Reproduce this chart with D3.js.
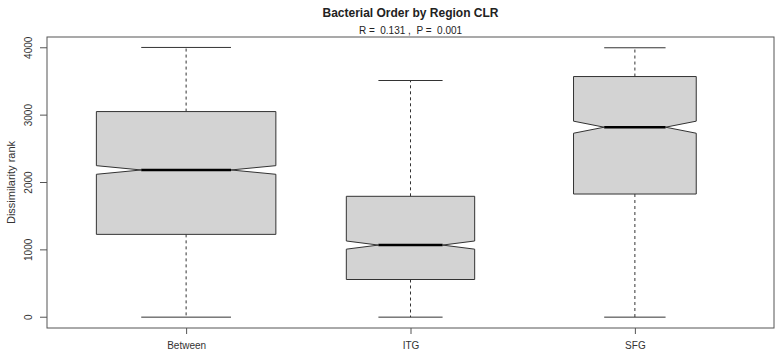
<!DOCTYPE html>
<html>
<head>
<meta charset="utf-8">
<title>Bacterial Order by Region CLR</title>
<script src="https://d3js.org/d3.v7.min.js"></script>
<style>
    body { margin: 0; background: #fff; }
    svg { font-family: "Liberation Sans", Arial, sans-serif; display: block; }
</style>
</head>
<body>
<svg id="chart"></svg>
<script>
// values
const groups = ["Between", "ITG", "SFG"];
const counts = [2024, 1035, 946];          // group sizes (box width ~ sqrt(n))
const lowerWhisker = [1, 1, 1];
const q1 = [1230, 560, 1829];
const medians = [2186, 1071, 2821];
const q3 = [3053, 1795, 3573];
const upperWhisker = [4005, 3514, 4000];
const yTicks = [0, 1000, 2000, 3000, 4000];

const width = 783, height = 358;
const margin = { top: 37, right: 9, bottom: 30, left: 47 };

const svg = d3.select("#chart")
    .attr("width", width)
    .attr("height", height);

const x = d3.scaleLinear()
    .domain([0.38, 3.62])
    .range([margin.left, width - margin.right]);

const y = d3.scaleLinear()
    .domain([-160, 4160])
    .range([height - margin.bottom, margin.top]);

const maxN = d3.max(counts);
const boxes = groups.map((g, i) => {
    const iqr = q3[i] - q1[i];
    const notch = 1.58 * iqr / Math.sqrt(counts[i]);
    return {
        name: g,
        pos: i + 1,
        half: 0.4 * Math.sqrt(counts[i] / maxN),
        lo: lowerWhisker[i], q1: q1[i], med: medians[i], q3: q3[i], hi: upperWhisker[i],
        nLo: medians[i] - notch, nHi: medians[i] + notch
    };
});

const g = svg.selectAll("g.box")
    .data(boxes)
    .enter()
    .append("g")
    .attr("class", "box");

// whiskers
g.append("line")
    .attr("x1", d => x(d.pos)).attr("x2", d => x(d.pos))
    .attr("y1", d => y(d.q3)).attr("y2", d => y(d.hi))
    .attr("stroke", "#333").attr("stroke-dasharray", "3,3");
g.append("line")
    .attr("x1", d => x(d.pos)).attr("x2", d => x(d.pos))
    .attr("y1", d => y(d.q1)).attr("y2", d => y(d.lo))
    .attr("stroke", "#333").attr("stroke-dasharray", "3,3");

// caps
g.append("line")
    .attr("x1", d => x(d.pos - d.half / 2)).attr("x2", d => x(d.pos + d.half / 2))
    .attr("y1", d => y(d.hi)).attr("y2", d => y(d.hi))
    .attr("stroke", "#333");
g.append("line")
    .attr("x1", d => x(d.pos - d.half / 2)).attr("x2", d => x(d.pos + d.half / 2))
    .attr("y1", d => y(d.lo)).attr("y2", d => y(d.lo))
    .attr("stroke", "#333");

// notched box
g.append("path")
    .attr("d", d => {
        const l = x(d.pos - d.half), r = x(d.pos + d.half);
        const il = x(d.pos - d.half / 2), ir = x(d.pos + d.half / 2);
        return d3.line()([
            [l, y(d.q1)], [l, y(d.nLo)], [il, y(d.med)], [l, y(d.nHi)], [l, y(d.q3)],
            [r, y(d.q3)], [r, y(d.nHi)], [ir, y(d.med)], [r, y(d.nLo)], [r, y(d.q1)]
        ]) + "Z";
    })
    .attr("fill", "#d3d3d3")
    .attr("stroke", "#333")
    .attr("stroke-width", 1);

// median
g.append("line")
    .attr("x1", d => x(d.pos - d.half / 2)).attr("x2", d => x(d.pos + d.half / 2))
    .attr("y1", d => y(d.med)).attr("y2", d => y(d.med))
    .attr("stroke", "#000").attr("stroke-width", 2.5);

// frame
svg.append("rect")
    .attr("x", margin.left).attr("y", margin.top)
    .attr("width", width - margin.left - margin.right)
    .attr("height", height - margin.top - margin.bottom)
    .attr("fill", "none").attr("stroke", "#555");

// y axis
const yAxis = svg.append("g")
    .attr("transform", `translate(${margin.left},0)`)
    .call(d3.axisLeft(y).tickValues(yTicks).tickSize(7).tickFormat(d3.format("d")));
yAxis.select(".domain").remove();
yAxis.selectAll("line").attr("stroke", "#555");
yAxis.selectAll("text")
    .attr("x", 0).attr("dy", 0)
    .attr("transform", d => `translate(-15,${y(d)}) rotate(-90)`)
    .attr("y", 0)
    .attr("text-anchor", "middle")
    .attr("font-size", 10)
    .attr("fill", "#333");
yAxis.selectAll(".tick").attr("transform", null);
yAxis.selectAll(".tick line").attr("y1", d => y(d)).attr("y2", d => y(d));

// x axis
const xAxis = svg.append("g")
    .attr("transform", `translate(0,${height - margin.bottom})`)
    .call(d3.axisBottom(x).tickValues(boxes.map(d => d.pos)).tickSize(6)
        .tickFormat((d, i) => groups[i]));
xAxis.select(".domain").remove();
xAxis.selectAll("line").attr("stroke", "#555");
xAxis.selectAll("text")
    .attr("y", 14).attr("dy", "0.71em")
    .attr("font-size", 10)
    .attr("fill", "#333");

// titles
const cx = (margin.left + width - margin.right) / 2;
svg.append("text")
    .attr("x", cx).attr("y", 17)
    .attr("text-anchor", "middle")
    .attr("font-size", 12).attr("font-weight", "bold")
    .attr("fill", "#222")
    .text("Bacterial Order by Region CLR");
svg.append("text")
    .attr("x", cx).attr("y", 34)
    .attr("text-anchor", "middle")
    .attr("font-size", 10)
    .attr("fill", "#222")
    .style("white-space", "pre")
    .attr("xml:space", "preserve")
    .text("R =  0.131 ,  P =  0.001");
svg.append("text")
    .attr("transform", `translate(15,${(margin.top + height - margin.bottom) / 2}) rotate(-90)`)
    .attr("text-anchor", "middle")
    .attr("font-size", 11)
    .attr("fill", "#333")
    .text("Dissimilarity rank");
</script>
</body>
</html>
